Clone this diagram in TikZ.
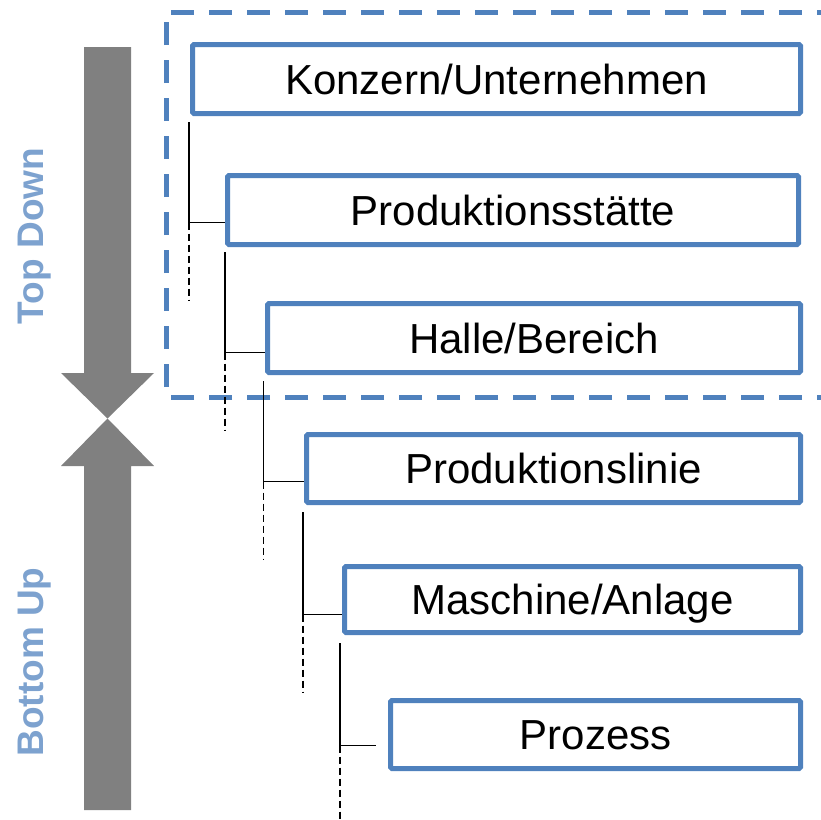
\documentclass[tikz,border=0pt]{standalone}
\usepackage{fontspec}
\setmainfont{Liberation Sans}
\usetikzlibrary{calc}
\definecolor{boxblue}{HTML}{4F81BD}
\definecolor{lblblue}{HTML}{7DA2CF}
\definecolor{arrgray}{HTML}{808080}
\tikzset{
  levelbox/.style={draw=boxblue, line width=5pt, rectangle, rounded corners=1.5pt,
    anchor=north west, inner sep=0pt, fill=white,
    font=\fontsize{42}{50}\selectfont, text height=30pt, text depth=0pt},
  conn/.style={draw=black, line width=1.8pt},
  dconn/.style={draw=black, line width=1.8pt, dash pattern=on 7pt off 4pt},
  frame/.style={draw=boxblue, line width=5pt, dash pattern=on 23pt off 15pt},
  sidelabel/.style={text=lblblue, font=\fontsize{37}{44}\selectfont\bfseries, rotate=90, anchor=base, inner sep=0pt},
  bigarrow/.style={fill=arrgray, draw=none}
}
\begin{document}
\begin{tikzpicture}[x=1pt, y=-1pt]
\useasboundingbox (0,0) rectangle (821,819);
% big arrows
\fill[bigarrow] (84,47) -- (131,47) -- (131,373) -- (154,373) -- (107.5,418.5) -- (61,373) -- (84,373) -- cycle;
\fill[bigarrow] (84,810) -- (131,810) -- (131,466) -- (154,466) -- (107.5,418.5) -- (61,466) -- (84,466) -- cycle;
% side labels
\node[sidelabel] (td) at (43,236) {Top Down};
\node[sidelabel] (bu) at (43,662) {Bottom Up};
% dashed frame
\draw[frame] (840,397) -- (166,397) -- (166,12) -- (840,12);
% boxes
\node[levelbox, minimum width=608pt, minimum height=69pt] (b1) at (190,42) {Konzern/Unternehmen};
\node[levelbox, minimum width=571pt, minimum height=69pt] (b2) at (225,173) {Produktionsstätte};
\node[levelbox, minimum width=533pt, minimum height=69pt] (b3) at (265,301) {Halle/Bereich};
\node[levelbox, minimum width=494pt, minimum height=68pt] (b4) at (304,432) {Produktionslinie};
\node[levelbox, minimum width=456pt, minimum height=66pt] (b5) at (342,564) {Maschine/Anlage};
\node[levelbox, minimum width=410pt, minimum height=68pt] (b6) at (388,698) {Prozess};
% corner coordinates
\coordinate (k1) at ($(b1.south west |- b2.west)+(-1,12.5)$);
\coordinate (k2) at ($(b2.south west |- b3.west)+(0,14.5)$);
\coordinate (k3) at ($(b3.south west |- b4.west)+(-1.5,13)$);
\coordinate (k4) at ($(b4.south west |- b5.west)+(-1,15)$);
\coordinate (k5) at ($(b5.south west |- b6.west)+(-2,11)$);
% connectors
\draw[conn] ($(b1.south west)+(-1,6)$) -- (k1) -- (b2.west |- k1);
\draw[conn] ($(b2.south west)+(0,5)$) -- (k2) -- (b3.west |- k2);
\draw[conn] ($(b3.south west)+(-1.5,6)$) -- (k3) -- (b4.west |- k3);
\draw[conn] ($(b4.south west)+(-1,7)$) -- (k4) -- (b5.west |- k4);
\draw[conn] ($(b5.south west)+(-2,8)$) -- (k5) -- ($(b6.west |- k5)+(-12,0)$);
% dashed continuations
\draw[dconn] (k1) -- ++(0,78);
\draw[dconn] (k2) -- ++(0,78);
\draw[dconn] (k3) -- ++(0,78);
\draw[dconn] (k4) -- ++(0,78);
\draw[dconn] (k5) -- ++(0,80);
\end{tikzpicture}
\end{document}
